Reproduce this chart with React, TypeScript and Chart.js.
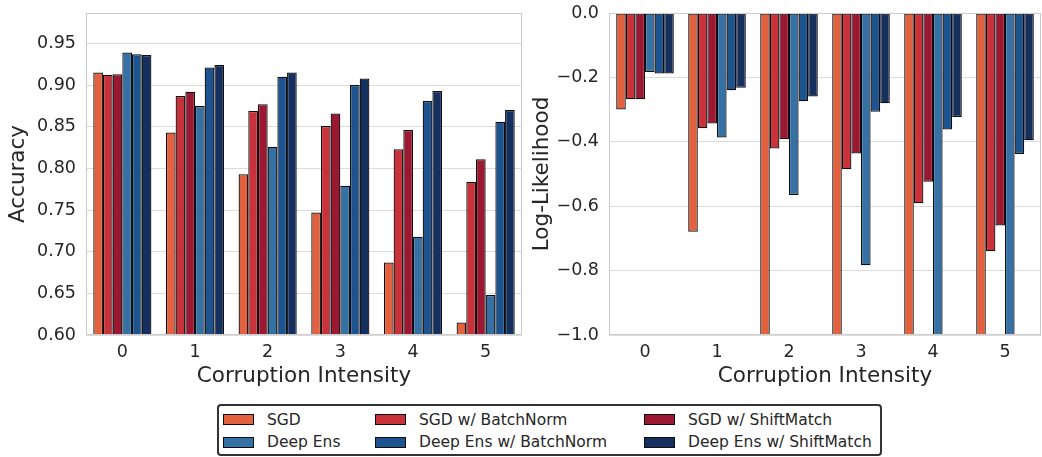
import React, { useEffect, useRef } from 'react';
import { Chart, registerables } from 'chart.js';

Chart.register(...registerables);

// ---------- data ----------
const categories = ['0', '1', '2', '3', '4', '5'];
const seriesLabels = [
  'SGD',
  'SGD w/ BatchNorm',
  'SGD w/ ShiftMatch',
  'Deep Ens',
  'Deep Ens w/ BatchNorm',
  'Deep Ens w/ ShiftMatch',
];
const seriesColors = ['#e4613f', '#c9323a', '#9c1732', '#3571a5', '#1d5490', '#152f5f'];

const accSGD = [0.915, 0.843, 0.793, 0.747, 0.687, 0.615];
const accSGDBN = [0.9125, 0.887, 0.869, 0.851, 0.823, 0.784];
const accSGDSM = [0.913, 0.892, 0.877, 0.866, 0.846, 0.811];
const accDE = [0.939, 0.875, 0.826, 0.779, 0.718, 0.648];
const accDEBN = [0.937, 0.921, 0.910, 0.900, 0.881, 0.856];
const accDESM = [0.936, 0.924, 0.915, 0.908, 0.893, 0.870];

const llSGD = [-0.300, -0.679, -1.2, -1.4, -1.6, -1.9];
const llSGDBN = [-0.268, -0.358, -0.421, -0.485, -0.591, -0.740];
const llSGDSM = [-0.268, -0.343, -0.392, -0.436, -0.524, -0.660];
const llDE = [-0.183, -0.387, -0.565, -0.783, -1.1, -1.3];
const llDEBN = [-0.188, -0.240, -0.274, -0.307, -0.362, -0.438];
const llDESM = [-0.188, -0.232, -0.259, -0.280, -0.323, -0.395];

const accSeries = [accSGD, accSGDBN, accSGDSM, accDE, accDEBN, accDESM];
const llSeries = [llSGD, llSGDBN, llSGDSM, llDE, llDEBN, llDESM];

const accRange = { min: 0.6, max: 0.9865, step: 0.05 };
const llRange = { min: -1.0, max: 0.0, step: 0.2 };

const xTitle = 'Corruption Intensity';
const accTitle = 'Accuracy';
const llTitle = 'Log-Likelihood';

// ---------- style ----------
const FONT = "'DejaVu Sans', 'Liberation Sans', sans-serif";
const TEXT = '#262626';
const GRID = '#dcdcdc';
const FRAME = '#cccccc';
const EDGE = '#0d0d0d';
const W = 1042;
const H = 395;

const framePlugin = {
  id: 'frame',
  afterDraw(chart: any) {
    const { ctx, chartArea: a } = chart;
    ctx.save();
    ctx.strokeStyle = FRAME;
    ctx.lineWidth = 1;
    const l = Math.round(a.left) + 0.5;
    const t = Math.round(a.top) + 0.5;
    const r = Math.round(a.right) - 0.5;
    const b = Math.round(a.bottom) - 0.5;
    ctx.strokeRect(l, t, r - l, b - t);
    ctx.restore();
  },
};

function makeConfig(
  series: number[][],
  range: { min: number; max: number; step: number },
  yTitle: string,
  fmt: (v: number) => string,
  pad: { left: number; right: number },
  yWidth: number,
  yTitlePad: number
): any {
  return {
    type: 'bar',
    data: {
      labels: categories,
      datasets: series.map((d, i) => ({
        label: seriesLabels[i],
        data: d,
        backgroundColor: seriesColors[i],
        borderColor: EDGE,
        borderWidth: 1.25,
        borderSkipped: false,
        barPercentage: 1.0,
        categoryPercentage: 0.8,
      })),
    },
    options: {
      responsive: false,
      animation: false,
      devicePixelRatio: 1,
      layout: { padding: { left: pad.left, right: pad.right, top: 13, bottom: 0 } },
      plugins: { legend: { display: false }, tooltip: { enabled: false } },
      scales: {
        x: {
          offset: true,
          grid: { display: false, drawTicks: false },
          border: { display: false },
          ticks: { color: TEXT, font: { family: FONT, size: 17.5 }, padding: 7 },
          title: {
            display: true,
            text: xTitle,
            color: TEXT,
            font: { family: FONT, size: 21.5, lineHeight: 1.2 },
            padding: { top: 0, bottom: 6 },
          },
          afterFit: (s: any) => {
            s.height = 60;
            s.paddingLeft = 0;
            s.paddingRight = 0;
          },
        },
        y: {
          min: range.min,
          max: range.max,
          grid: { color: GRID, lineWidth: 1, drawTicks: false },
          border: { display: false },
          ticks: {
            stepSize: range.step,
            includeBounds: false,
            color: TEXT,
            font: { family: FONT, size: 17.5 },
            padding: 10,
            callback: (v: any) => fmt(Number(v)),
          },
          title: {
            display: true,
            text: yTitle,
            color: TEXT,
            font: { family: FONT, size: 21.5, lineHeight: 1.2 },
            padding: { top: yTitlePad, bottom: 0 },
          },
          afterFit: (s: any) => {
            s.width = yWidth;
            s.paddingTop = 0;
            s.paddingBottom = 0;
          },
        },
      },
    },
    plugins: [framePlugin],
  };
}

const fmtAcc = (v: number) => v.toFixed(2);
const fmtLL = (v: number) => {
  const s = (Math.abs(v) < 1e-9 ? 0 : v).toFixed(1);
  return s.replace('-', '\u2212');
};

// legend layout (positions only)
const legendCols = [223, 375, 644];
const legendRows = [419.5, 442];

export default function App() {
  const leftRef = useRef<HTMLCanvasElement>(null);
  const rightRef = useRef<HTMLCanvasElement>(null);

  useEffect(() => {
    const c1 = new Chart(
      leftRef.current as HTMLCanvasElement,
      makeConfig(accSeries, accRange, accTitle, fmtAcc, { left: 0, right: W - 522 }, 86, 6)
    );
    const c2 = new Chart(
      rightRef.current as HTMLCanvasElement,
      makeConfig(llSeries, llRange, llTitle, fmtLL, { left: 522, right: 1 }, 87, 7.5)
    );
    return () => {
      c1.destroy();
      c2.destroy();
    };
  }, []);

  const canvasStyle: React.CSSProperties = {
    position: 'absolute',
    left: 0,
    top: 0,
    width: W,
    height: H,
  };

  return (
    <div
      style={{
        position: 'fixed',
        left: 0,
        top: 0,
        width: W,
        height: 457,
        background: '#ffffff',
        overflow: 'hidden',
        fontFamily: FONT,
      }}
    >
      <canvas ref={leftRef} width={W} height={H} style={canvasStyle} />
      <canvas ref={rightRef} width={W} height={H} style={canvasStyle} />
      <div
        style={{
          position: 'absolute',
          left: 216.5,
          top: 404,
          width: 882 - 216.5,
          height: 52,
          boxSizing: 'border-box',
          border: '2px solid #333333',
          borderRadius: 4,
          background: '#ffffff',
        }}
      />
      {seriesLabels.map((lab, i) => {
        const col = i % 3;
        const row = Math.floor(i / 3);
        const x = legendCols[col];
        const y = legendRows[row];
        return (
          <React.Fragment key={lab}>
            <div
              style={{
                position: 'absolute',
                left: x,
                top: y - 5.5,
                width: 31,
                height: 11,
                boxSizing: 'border-box',
                background: seriesColors[i],
                border: '1px solid ' + EDGE,
              }}
            />
            <div
              style={{
                position: 'absolute',
                left: x + 44,
                top: y - 10,
                height: 20,
                lineHeight: '20px',
                fontSize: 15.5,
                color: TEXT,
                whiteSpace: 'nowrap',
                fontFamily: FONT,
              }}
            >
              {lab}
            </div>
          </React.Fragment>
        );
      })}
    </div>
  );
}
